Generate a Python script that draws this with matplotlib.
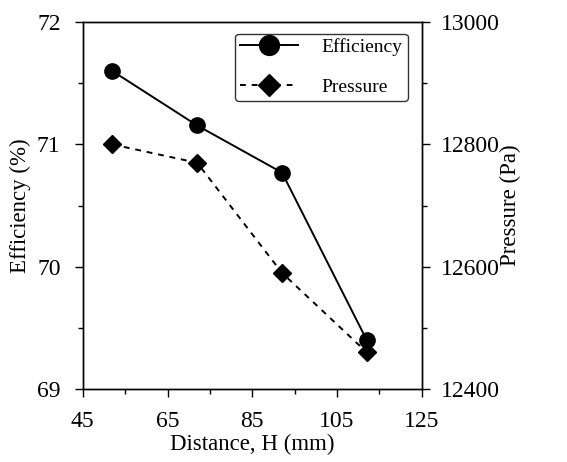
import matplotlib
matplotlib.use("Agg")
import matplotlib.pyplot as plt
from matplotlib.ticker import MultipleLocator

plt.rcParams['font.family'] = ['Liberation Serif', 'DejaVu Serif']

distance = [52, 72, 92, 112]
efficiency = [71.6, 71.155, 70.77, 69.4]
pressure = [12800, 12770, 12590, 12460]

fig = plt.figure(figsize=(5.67, 4.62), dpi=100)
ax = fig.add_axes([0.146, 0.158, 0.598, 0.794])
ax2 = ax.twinx()

l1, = ax.plot(distance, efficiency, '-', color='black', lw=1.4,
              marker='o', markersize=11, label='Efficiency')
l2, = ax2.plot(distance, pressure, '--', color='black', lw=1.4,
               marker='D', markersize=9, dashes=(3, 3), label='Pressure')

ax.set_xlim(45, 125)
ax.set_ylim(69, 72)
ax2.set_ylim(12400, 13000)
ax.xaxis.set_major_locator(MultipleLocator(20, offset=5))
ax.xaxis.set_minor_locator(MultipleLocator(10, offset=5))
ax.yaxis.set_major_locator(MultipleLocator(1))
ax.yaxis.set_minor_locator(MultipleLocator(0.5))
ax2.yaxis.set_major_locator(MultipleLocator(200))
ax2.yaxis.set_minor_locator(MultipleLocator(100))

for a in (ax, ax2):
    a.tick_params(which='major', direction='out', length=6, width=1, labelsize=17)
    a.tick_params(which='minor', direction='out', length=3.5, width=1)
    for s in a.spines.values():
        s.set_linewidth(1)
ax.tick_params(axis='x', which='major', pad=10)
ax.tick_params(axis='y', which='major', pad=10)
ax2.tick_params(axis='y', which='major', pad=8)

ax.set_xlabel('Distance, H (mm)', fontsize=16.5, labelpad=1)
ax.set_ylabel('Efficiency (%)', fontsize=16.5, labelpad=4)
ax2.set_ylabel('Pressure (Pa)', fontsize=16.5, labelpad=0)

leg = ax.legend([l1, l2], ['Efficiency', 'Pressure'], loc='upper right',
                fontsize=14, frameon=True, fancybox=True, edgecolor='black',
                markerscale=1.3, handlelength=3.0, handletextpad=1.2,
                borderpad=0.25, labelspacing=1.15, borderaxespad=0.3,
                bbox_to_anchor=(0.975, 0.985))
leg.get_frame().set_linewidth(1)

fig.savefig('out.png', dpi=100)
